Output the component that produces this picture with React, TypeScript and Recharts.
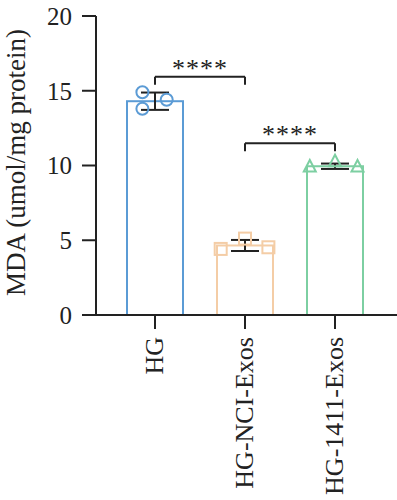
import {
  ComposedChart,
  Bar,
  Scatter,
  XAxis,
  YAxis,
  ErrorBar,
  ReferenceLine,
  Label,
} from "recharts";

const groups = ["HG", "HG-NCI-Exos", "HG-1411-Exos"];
const means = [14.3, 4.65, 9.95];
const sds = [0.58, 0.37, 0.18];
const colors = ["#5B9BD5", "#F4CDA6", "#7DCFA2"];

// individual replicates (x = position within the category band, 0..3)
const hgX = [0.36, 0.36, 0.63];
const hgY = [14.9, 13.8, 14.4];
const nciX = [1.23, 1.5, 1.76];
const nciY = [4.42, 5.11, 4.53];
const mirX = [2.22, 2.5, 2.75];
const mirY = [9.9, 10.25, 9.9];

const yTicks = [0, 5, 10, 15, 20];

// significance brackets: from / to (category centres), bar height, leg end
const brackets = [
  { from: 0.5, to: 1.5, top: 15.93, leg: 15.4, text: "****" },
  { from: 1.5, to: 2.5, top: 11.49, leg: 10.95, text: "****" },
];

const FONT = "'Liberation Serif', 'Times New Roman', serif";
const INK = "#222";

const barData = groups.map((name, i) => ({ name, mean: means[i], sd: sds[i] }));
const toPts = (xs: number[], ys: number[]) => xs.map((x, i) => ({ x, y: ys[i] }));

function CircleMark(props: any) {
  const { cx, cy } = props;
  return <circle cx={cx} cy={cy} r={6} fill="none" stroke={colors[0]} strokeWidth={2} />;
}

function SquareMark(props: any) {
  const { cx, cy } = props;
  return (
    <rect x={cx - 6} y={cy - 6} width={12} height={12} fill="none" stroke={colors[1]} strokeWidth={2} />
  );
}

function TriangleMark(props: any) {
  const { cx, cy } = props;
  const d = `M${cx},${cy - 7} L${cx - 6},${cy + 4.5} L${cx + 6},${cy + 4.5} Z`;
  return <path d={d} fill="none" stroke={colors[2]} strokeWidth={2} />;
}

function RotatedTick(props: any) {
  const { x, y, payload } = props;
  const bx = x + 8;
  return (
    <text
      x={bx}
      y={y}
      transform={`rotate(-90, ${bx}, ${y})`}
      textAnchor="end"
      fontFamily={FONT}
      fontSize={26}
      fill={INK}
    >
      {payload.value}
    </text>
  );
}

function YLabel(props: any) {
  const { viewBox } = props;
  const cx = viewBox.x + 25;
  const cy = viewBox.y + viewBox.height / 2 - 3;
  return (
    <text
      x={cx}
      y={cy}
      transform={`rotate(-90, ${cx}, ${cy})`}
      textAnchor="middle"
      fontFamily={FONT}
      fontSize={27}
      fill={INK}
    >
      MDA (umol/mg protein)
    </text>
  );
}

export default function App() {
  return (
    <div style={{ position: "absolute", left: 0, top: 0, background: "#fff" }}>
      <ComposedChart
        width={397}
        height={500}
        data={barData}
        margin={{ top: 16, right: 0, bottom: 0, left: 0 }}
      >
        <XAxis
          xAxisId="cat"
          dataKey="name"
          height={185}
          padding={{ left: 14, right: 17 }}
          axisLine={{ stroke: INK, strokeWidth: 2 }}
          tickLine={{ stroke: INK, strokeWidth: 2 }}
          tickSize={14}
          tickMargin={8}
          tick={<RotatedTick />}
          interval={0}
        />
        <XAxis
          xAxisId="num"
          type="number"
          dataKey="x"
          domain={[0, 3]}
          allowDataOverflow
          padding={{ left: 14, right: 17 }}
          hide
        />
        <YAxis
          width={96}
          domain={[0, 20]}
          ticks={yTicks}
          interval={0}
          axisLine={{ stroke: INK, strokeWidth: 2 }}
          tickLine={{ stroke: INK, strokeWidth: 2 }}
          tickSize={14}
          tickMargin={10}
          tick={{ fontFamily: FONT, fontSize: 25, fill: INK }}
        >
          <Label content={<YLabel />} />
        </YAxis>

        <Bar
          xAxisId="cat"
          dataKey="mean"
          barSize={56}
          fill="none"
          isAnimationActive={false}
          shape={(p: any) => (
            <rect
              x={p.x}
              y={p.y}
              width={p.width}
              height={p.height}
              fill="none"
              stroke={colors[p.index]}
              strokeWidth={2}
            />
          )}
        >
          <ErrorBar dataKey="sd" width={14} stroke={INK} strokeWidth={2} direction="y" />
        </Bar>

        <Scatter xAxisId="num" data={toPts(hgX, hgY)} dataKey="y" shape={<CircleMark />} isAnimationActive={false} />
        <Scatter xAxisId="num" data={toPts(nciX, nciY)} dataKey="y" shape={<SquareMark />} isAnimationActive={false} />
        <Scatter xAxisId="num" data={toPts(mirX, mirY)} dataKey="y" shape={<TriangleMark />} isAnimationActive={false} />

        {brackets.map((b, i) => (
          <ReferenceLine
            key={`top-${i}`}
            xAxisId="num"
            segment={[
              { x: b.from, y: b.top },
              { x: b.to, y: b.top },
            ]}
            stroke={INK}
            strokeWidth={2}
            ifOverflow="visible"
            label={{
              value: b.text,
              position: "top",
              offset: 0,
              fontFamily: FONT,
              fontSize: 26,
              fill: INK,
              letterSpacing: 1,
            }}
          />
        ))}
        {brackets.flatMap((b, i) =>
          [b.from, b.to].map((x, j) => (
            <ReferenceLine
              key={`leg-${i}-${j}`}
              xAxisId="num"
              segment={[
                { x, y: b.top },
                { x, y: b.leg },
              ]}
              stroke={INK}
              strokeWidth={2}
              ifOverflow="visible"
            />
          ))
        )}
      </ComposedChart>
    </div>
  );
}
